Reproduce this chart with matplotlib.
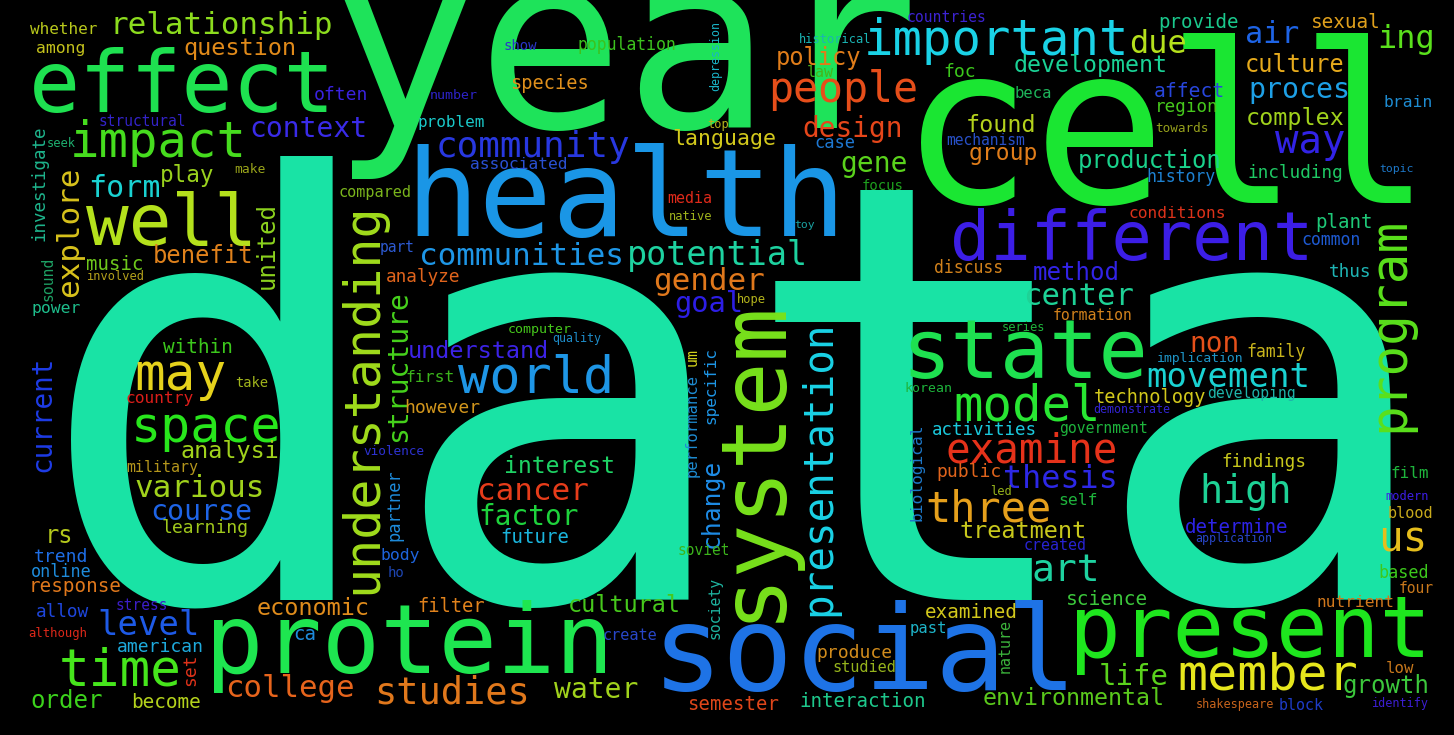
import matplotlib
matplotlib.use("Agg")
import matplotlib.pyplot as plt

# word frequencies (as rendered glyph size, px per em)
words = [
    "data", "year", "cell", "health", "social", "protein", "system", "present",
    "state", "effect", "well", "different", "understanding", "impact", "important",
    "world", "space", "may", "model", "time", "member", "program", "people",
    "three", "examine", "presentation", "way", "us", "high", "art", "studies",
    "community", "movement", "level", "potential", "thesis", "due", "ing",
    "relationship", "various", "cancer", "communities", "college", "gender",
    "center", "explore", "air", "form", "life", "goal", "course", "proces",
    "context", "water", "gene", "design", "factor", "non", "structure",
    "current", "method", "order", "growth", "benefit", "production", "united",
    "rs", "policy", "culture", "change", "question", "understand", "economic",
    "cultural", "treatment", "found", "complex", "analysi", "development",
    "environmental", "group", "interest", "play", "language", "affect", "sexual",
    "within", "become", "science", "response", "examined", "provide", "plant",
    "determine", "interaction", "future", "music", "semester", "ca", "filter",
    "species", "technology", "learning", "however", "trend", "american", "public",
    "foc", "produce", "set", "often", "allow", "including", "analyze", "thus",
    "region", "findings", "investigate", "activities", "partner", "online",
    "based", "case", "population", "history", "common", "discuss", "family",
    "power", "first", "body", "self", "brain", "among", "country", "nutrient",
    "conditions", "associated", "biological", "specific", "whether", "problem",
    "film", "low", "performance", "past", "beca", "um", "create", "blood",
    "studied", "compared", "law", "media", "military", "created", "block",
    "nature", "countries", "formation", "government", "developing", "society",
    "sound", "part", "mechanism", "four", "structural", "stress", "soviet",
    "show", "focus", "ho", "take", "number", "computer", "korean", "implication",
    "make", "violence", "towards", "although", "historical", "involved", "seek",
    "hope", "series", "native", "top", "led", "modern", "depression",
    "shakespeare", "identify", "application", "demonstrate", "quality", "toy",
    "topic",
]
weights = [
    583, 245, 221, 122, 118, 97, 90, 86,
    82, 85, 71, 67, 50, 49, 49,
    52, 50, 51, 49, 51, 50, 51, 41.6,
    42, 41, 41, 39, 41, 38.5, 38, 37,
    36, 34, 34, 33.4, 31.8, 32, 32,
    31, 31, 31, 31, 30.8, 31,
    30.6, 31, 30, 30, 29, 28.8, 28.3, 28.3,
    28, 28, 28, 27.7, 27.7, 27.7, 28,
    27.6, 24, 24, 24, 23.9, 23.9, 24,
    23.8, 23.7, 23.6, 24.6, 23.5, 23.5, 23.5,
    23.5, 23.5, 23.4, 23.4, 23.4, 23.3,
    23.2, 23, 23, 22.6, 21.6, 19.7, 19.4,
    19.4, 19.4, 19.5, 19.3, 19.3, 19.2, 19.2,
    19.2, 19.2, 19, 19, 19, 19, 18.8,
    18.7, 18.7, 18.2, 18, 18, 18, 18,
    18, 18, 18, 18, 17.8, 17.8, 17.7, 17.7,
    17.6, 17.6, 17.5, 17.5, 17, 16.8,
    16.8, 17, 16.5, 16.5, 16.5, 16.5, 16.5,
    16.4, 16.4, 16.4, 16.4, 16.4, 16.4, 16.3, 16.3,
    16.2, 16.2, 16.2, 16, 16, 16,
    16, 15.7, 15.5, 15.5, 15.5, 15, 15.3, 15.3,
    15.3, 15.2, 15, 15, 15, 15, 15,
    15, 14.8, 14.8, 14.8, 14.8, 14.8,
    14.7, 14.6, 14.6, 14.6, 14.5, 14.5, 14.5,
    14, 14, 14, 13.7, 13.3, 13.3, 13.3, 13.1,
    13, 12.8, 12.6, 12.2, 12, 12, 12,
    12, 12, 12, 12, 12, 12, 11.6,
    11.8, 11.8, 11.6, 11.6, 11.6, 11.5,
    11.5,
]

# layout of the cloud: word -> (x, y, rotation, colour)
# horizontal: x = ink centre, y = baseline; vertical: x = baseline, y = ink centre
layout = {
    "data": (738, 600, 0, "#19e3a5"),
    "year": (625, 128, 0, "#1ee35a"),
    "cell": (1166, 203, 0, "#1ae632"),
    "health": (626, 236, 0, "#1a96e6"),
    "social": (865, 690, 0, "#1e73e6"),
    "protein": (409, 673, 0, "#1ee650"),
    "system": (778, 460, 90, "#78e11c"),
    "present": (1250, 657, 0, "#1ee61e"),
    "state": (1025, 378, 0, "#1ee150"),
    "effect": (182, 112, 0, "#1ee150"),
    "well": (172, 245, 0, "#b4e11c"),
    "different": (1132, 260, 0, "#3c1ee6"),
    "understanding": (376, 398, 90, "#a0dc1c"),
    "impact": (158, 157, 0, "#46dc1e"),
    "important": (997, 55, 0, "#1ad2e6"),
    "world": (536, 392, 0, "#1e96e6"),
    "space": (206, 442, 0, "#28e61c"),
    "may": (180, 390, 0, "#e6d21c"),
    "model": (1027, 420, 0, "#28e632"),
    "time": (120, 685, 0, "#46e61c"),
    "member": (1268, 690, 0, "#e6e61c"),
    "program": (1403, 324, 90, "#5ae01c"),
    "people": (843, 102, 0, "#e64e1a"),
    "three": (988, 522, 0, "#e6a01c"),
    "examine": (1032, 462, 0, "#e6321a"),
    "presentation": (830, 468, 90, "#1ad2e6"),
    "way": (1310, 153, 0, "#3223e6"),
    "us": (1403, 552, 0, "#e6be1c"),
    "high": (1246, 503, 0, "#1ed296"),
    "art": (1066, 582, 0, "#1ed2a0"),
    "studies": (452, 703, 0, "#e0781c"),
    "community": (533, 157, 0, "#2838e0"),
    "movement": (1228, 387, 0, "#1ad2d2"),
    "level": (149, 635, 0, "#1e5ae6"),
    "potential": (717, 265, 0, "#1ed2a0"),
    "thesis": (1060, 488, 0, "#2d28e6"),
    "due": (1158, 53, 0, "#b4e01c"),
    "ing": (1406, 48, 0, "#5ae01c"),
    "relationship": (221, 34, 0, "#8cdc1e"),
    "various": (200, 497, 0, "#a0d21c"),
    "cancer": (533, 500, 0, "#e63c1a"),
    "communities": (521, 265, 0, "#1e96e6"),
    "college": (290, 697, 0, "#e6641c"),
    "gender": (709, 290, 0, "#e0781c"),
    "center": (1079, 305, 0, "#1ed296"),
    "explore": (78, 232, 90, "#d8c21c"),
    "air": (1272, 43, 0, "#1e64e6"),
    "form": (124, 197, 0, "#1ad2d2"),
    "life": (1134, 685, 0, "#5ad21c"),
    "goal": (709, 312, 0, "#2d1ee6"),
    "course": (201, 520, 0, "#1e64e6"),
    "proces": (1299, 98, 0, "#1ea0e6"),
    "context": (308, 137, 0, "#3a2be8"),
    "water": (596, 698, 0, "#a0d21c"),
    "gene": (874, 172, 0, "#5ad21c"),
    "design": (853, 137, 0, "#e6461a"),
    "factor": (529, 525, 0, "#1ed23c"),
    "non": (1215, 352, 0, "#e6501a"),
    "structure": (406, 366, 90, "#46d21c"),
    "current": (50, 414, 90, "#1e3ce6"),
    "method": (1076, 280, 0, "#3223e6"),
    "order": (67, 708, 0, "#3cd21c"),
    "growth": (1386, 693, 0, "#3cc83c"),
    "benefit": (203, 263, 0, "#e0821c"),
    "production": (1150, 168, 0, "#1ad28c"),
    "united": (274, 245, 90, "#8cd21e"),
    "rs": (59, 543, 0, "#b4c81c"),
    "policy": (819, 65, 0, "#e07d1a"),
    "culture": (1295, 72, 0, "#e6aa1c"),
    "change": (719, 503, 90, "#1e8ce6"),
    "question": (240, 55, 0, "#e08a1a"),
    "understand": (478, 358, 0, "#3c23e6"),
    "economic": (313, 615, 0, "#e08c1c"),
    "cultural": (624, 612, 0, "#46c81c"),
    "treatment": (1023, 538, 0, "#c8c81c"),
    "found": (1001, 132, 0, "#b4d21c"),
    "complex": (1295, 125, 0, "#a0d21c"),
    "analysi": (230, 458, 0, "#a0d21c"),
    "development": (1091, 72, 0, "#1ad296"),
    "environmental": (1074, 705, 0, "#5ac81c"),
    "group": (1003, 160, 0, "#e07d1a"),
    "interest": (560, 473, 0, "#1ed264"),
    "play": (187, 182, 0, "#9ad21e"),
    "language": (724, 145, 0, "#d2c81c"),
    "affect": (1189, 97, 0, "#2846dc"),
    "sexual": (1346, 28, 0, "#e0a01c"),
    "within": (198, 353, 0, "#3cc81c"),
    "become": (166, 708, 0, "#b4d21c"),
    "science": (1107, 605, 0, "#3cc83c"),
    "response": (75, 592, 0, "#e0781c"),
    "examined": (971, 618, 0, "#d2c81c"),
    "provide": (1199, 28, 0, "#1ac88c"),
    "plant": (1344, 228, 0, "#1ec878"),
    "determine": (1237, 533, 0, "#2d23e6"),
    "interaction": (863, 707, 0, "#1ec88c"),
    "future": (535, 543, 0, "#1ab4dc"),
    "music": (115, 270, 0, "#6ec81c"),
    "semester": (733, 710, 0, "#e0461a"),
    "ca": (305, 640, 0, "#1e8cdc"),
    "filter": (451, 612, 0, "#e0821c"),
    "species": (549, 89, 0, "#e0901c"),
    "technology": (1150, 403, 0, "#d2c81c"),
    "learning": (205, 533, 0, "#a0c81c"),
    "however": (442, 413, 0, "#d2961c"),
    "trend": (61, 562, 0, "#1e6ee6"),
    "american": (160, 652, 0, "#1eaadc"),
    "public": (969, 477, 0, "#e0641c"),
    "foc": (960, 77, 0, "#3cc81c"),
    "produce": (854, 658, 0, "#d28c1c"),
    "set": (195, 670, 90, "#e0321a"),
    "often": (341, 100, 0, "#3a22e0"),
    "allow": (62, 617, 0, "#1e46dc"),
    "including": (1295, 178, 0, "#1ec864"),
    "analyze": (423, 282, 0, "#e0641c"),
    "thus": (1350, 277, 0, "#1eb4b4"),
    "region": (1187, 112, 0, "#46c81c"),
    "findings": (1264, 467, 0, "#c8c81c"),
    "investigate": (44, 183, 90, "#1eb48c"),
    "activities": (984, 435, 0, "#1ac8dc"),
    "partner": (399, 505, 90, "#1e8cdc"),
    "online": (61, 577, 0, "#1e8cdc"),
    "based": (1404, 578, 0, "#3cc81c"),
    "case": (835, 148, 0, "#1e78d2"),
    "population": (627, 50, 0, "#3cc21e"),
    "history": (1181, 182, 0, "#1e82d2"),
    "common": (1331, 245, 0, "#1e5ad2"),
    "discuss": (969, 273, 0, "#d2821c"),
    "family": (1276, 357, 0, "#c8b41c"),
    "power": (56, 313, 0, "#1ebe8c"),
    "first": (430, 382, 0, "#3cb41c"),
    "body": (400, 560, 0, "#1e64dc"),
    "self": (1078, 505, 0, "#1eb43c"),
    "brain": (1408, 107, 0, "#1e8cd2"),
    "among": (61, 53, 0, "#c4c21c"),
    "country": (160, 403, 0, "#dc1e1a"),
    "nutrient": (1355, 607, 0, "#d2781c"),
    "conditions": (1177, 218, 0, "#dc321a"),
    "associated": (519, 169, 0, "#2a50d2"),
    "biological": (921, 472, 90, "#1e78c8"),
    "specific": (715, 385, 90, "#1e96e6"),
    "whether": (64, 34, 0, "#b8c81c"),
    "problem": (451, 127, 0, "#1ac8c8"),
    "film": (1410, 478, 0, "#1eb43c"),
    "low": (1400, 673, 0, "#c8781c"),
    "performance": (697, 425, 90, "#1e8cd2"),
    "past": (928, 633, 0, "#1eb4c8"),
    "beca": (1033, 98, 0, "#1eb45a"),
    "um": (697, 357, 90, "#d2d21c"),
    "create": (630, 640, 0, "#2846c8"),
    "blood": (1410, 518, 0, "#c8aa1c"),
    "studied": (864, 672, 0, "#96b41c"),
    "compared": (375, 197, 0, "#7ab41c"),
    "law": (820, 77, 0, "#46b41c"),
    "media": (690, 203, 0, "#e02a1a"),
    "military": (162, 472, 0, "#b4961c"),
    "created": (1055, 550, 0, "#2823d2"),
    "block": (1301, 710, 0, "#1e3cc8"),
    "nature": (1010, 646, 90, "#3cb43c"),
    "countries": (947, 22, 0, "#3c23d2"),
    "formation": (1093, 320, 0, "#d2821c"),
    "government": (1103, 433, 0, "#1eb43c"),
    "developing": (1251, 398, 0, "#1eb4aa"),
    "society": (720, 608, 90, "#1eb4a0"),
    "sound": (53, 279, 90, "#1ea064"),
    "part": (397, 252, 0, "#2d5ad2"),
    "mechanism": (986, 145, 0, "#2850c8"),
    "four": (1416, 593, 0, "#c8781c"),
    "structural": (142, 126, 0, "#3323c8"),
    "stress": (142, 610, 0, "#3c1ec8"),
    "soviet": (704, 555, 0, "#3cb41c"),
    "show": (520, 50, 0, "#2a35c8"),
    "focus": (883, 190, 0, "#1ea01e"),
    "ho": (396, 577, 0, "#1e46b4"),
    "take": (252, 387, 0, "#a0b41c"),
    "number": (454, 99, 0, "#2d23c8"),
    "computer": (540, 333, 0, "#46c81c"),
    "korean": (928, 392, 0, "#1eb43c"),
    "implication": (1200, 362, 0, "#1e96c8"),
    "make": (250, 173, 0, "#9aa51a"),
    "violence": (394, 455, 0, "#2d32d2"),
    "towards": (1182, 132, 0, "#96a01c"),
    "although": (58, 637, 0, "#dc281a"),
    "historical": (835, 43, 0, "#1ab4b4"),
    "involved": (115, 280, 0, "#b4a01c"),
    "seek": (61, 147, 0, "#1eb070"),
    "hope": (751, 303, 0, "#b4b41c"),
    "series": (1024, 331, 0, "#1eb43c"),
    "native": (691, 220, 0, "#a0b41c"),
    "top": (718, 128, 0, "#b4b41c"),
    "led": (1001, 495, 0, "#96b41c"),
    "modern": (1407, 500, 0, "#3c1ee6"),
    "depression": (719, 56, 90, "#1ab4c8"),
    "shakespeare": (1235, 708, 0, "#c8641c"),
    "identify": (1400, 707, 0, "#3c1ed2"),
    "application": (1234, 542, 0, "#2846c8"),
    "demonstrate": (1132, 413, 0, "#3223d2"),
    "quality": (577, 342, 0, "#1e8cc8"),
    "toy": (805, 228, 0, "#1aa0a0"),
    "topic": (1396, 172, 0, "#1e78c8"),
}

W, H = 1454, 735
fig = plt.figure(figsize=(W / 100, H / 100), dpi=100, facecolor="black")
ax = fig.add_axes([0, 0, 1, 1])
ax.set_facecolor("black")
ax.set_xlim(0, W)
ax.set_ylim(H, 0)
ax.axis("off")

for word, size in zip(words, weights):
    x, y, rot, color = layout[word]
    ax.text(
        x, y, word,
        fontsize=size * 0.72,  # px -> pt at 100 dpi
        family="DejaVu Sans Mono",
        color=color,
        rotation=rot,
        rotation_mode="anchor",
        ha="center",
        va="baseline",
    )

fig.savefig("out.png", dpi=100, facecolor="black")
